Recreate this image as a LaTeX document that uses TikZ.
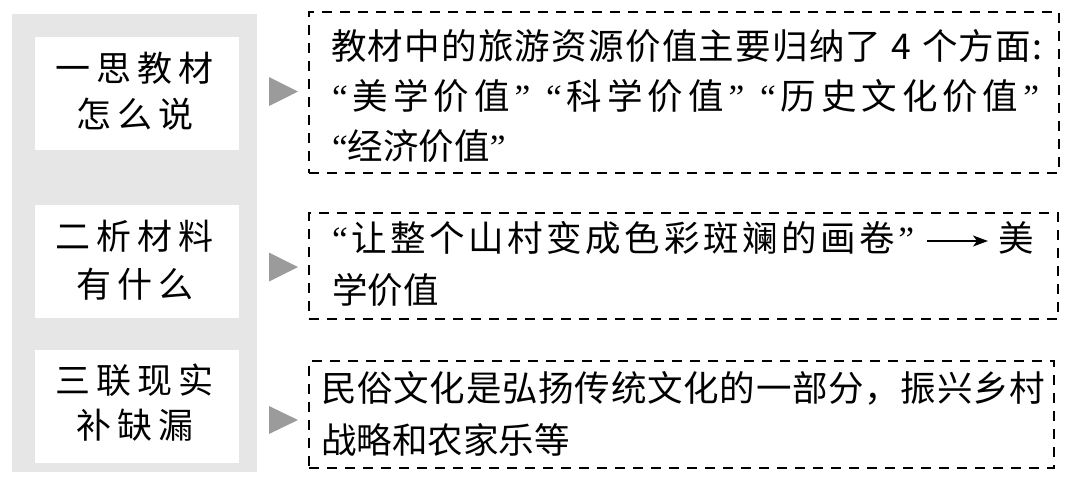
\documentclass[tikz,border=0pt]{standalone}
\usepackage{fontspec}
\usetikzlibrary{arrows.meta}
\newfontfamily\cjk{Noto Sans CJK SC}
\newfontfamily\qfont{Liberation Serif}
\newcommand\qo{{\qfont “}}
\newcommand\qc{{\qfont ”}}
\newcommand\kk{\hspace{6pt}}
\makeatletter
\def\sprd#1{\sprd@#1\@nil}
\def\sprd@#1#2\@nil{#1\ifx\relax#2\relax\else\hfil\sprd@#2\@nil\fi}
\makeatother
\begin{document}
\begin{tikzpicture}[x=1pt,y=-1pt,
  panel/.style={fill=panelgray,draw=none,inner sep=0pt,anchor=north west},
  labelbox/.style={fill=white,draw=none,inner sep=0pt,anchor=north west,minimum width=204pt,minimum height=113pt},
  labeltext/.style={inner sep=0pt,anchor=center,font=\cjk\fontsize{35pt}{40pt}\selectfont},
  dashbox/.style={draw=black,line width=1.8pt,dash pattern=on 10pt off 8pt,inner sep=0pt,anchor=north west},
  bodytext/.style={inner sep=0pt,anchor=west,font=\cjk\fontsize{35.5pt}{40pt}\selectfont},
  tri/.style={fill=trigray,draw=none},
  textarrow/.style={line width=1.6pt,-{Stealth[length=15pt,width=11pt,inset=4pt]}}]
\definecolor{panelgray}{HTML}{E6E6E6}
\definecolor{trigray}{HTML}{9B9B9B}
\useasboundingbox (0,0) rectangle (1080,488);
% left panel
\node[panel,minimum width=245pt,minimum height=458pt] (pan) at (12,14) {};
\node[labelbox] (l1) at (35,37) {};
\node[labelbox] (l2) at (35,205) {};
\node[labelbox] (l3) at (35,350) {};
\node[labeltext] (l1a) at (135,68) {一\kk 思\kk 教\kk 材};
\node[labeltext] (l1b) at (135,114) {怎\kk 么\kk 说};
\node[labeltext] (l2a) at (135,236) {二\kk 析\kk 材\kk 料};
\node[labeltext] (l2b) at (135,284) {有\kk 什\kk 么};
\node[labeltext] (l3a) at (135,380) {三\kk 联\kk 现\kk 实};
\node[labeltext] (l3b) at (135,425) {补\kk 缺\kk 漏};
% triangles
\fill[tri] (269,77) -- (298,91.5) -- (269,106) -- cycle;
\fill[tri] (269,252.5) -- (298,267) -- (269,281.5) -- cycle;
\fill[tri] (269,406) -- (298,420) -- (269,434) -- cycle;
% dashed boxes
\node[dashbox,minimum width=750pt,minimum height=161pt] (b1) at (308,11) {};
\node[dashbox,minimum width=749pt,minimum height=106pt] (b2) at (308,212) {};
\node[dashbox,minimum width=745pt,minimum height=107pt] (b3) at (308,360) {};
% texts
\node[bodytext] (t1a) at (331,46) {\makebox[711pt][s]{\sprd{教材中的旅游资源价值主要归纳了~4~个方面:}}};
\node[bodytext] (t1b) at (332,96) {\makebox[707pt][s]{\sprd{\qo 美学价值\qc\kk\qo 科学价值\qc\kk\qo 历史文化价值\qc}}};
\node[bodytext] (t1c) at (332,146) {\qo 经济价值\qc};
\node[bodytext] (t2a) at (332,238) {\makebox[582pt][s]{\sprd{\qo 让整个山村变成色彩斑斓的画卷\qc}}};
\coordinate (a1) at (927,241);
\coordinate (a2) at (988,241);
\draw[textarrow] (a1) -- (a2);
\node[bodytext] (t2m) at (998,238) {美};
\node[bodytext] (t2b) at (332,290) {学价值};
\node[bodytext] (t3a) at (321,388) {\makebox[724pt][s]{\sprd{民俗文化是弘扬传统文化的一部分，振兴乡村}}};
\node[bodytext] (t3b) at (321,440) {战略和农家乐等};
\end{tikzpicture}
\end{document}
